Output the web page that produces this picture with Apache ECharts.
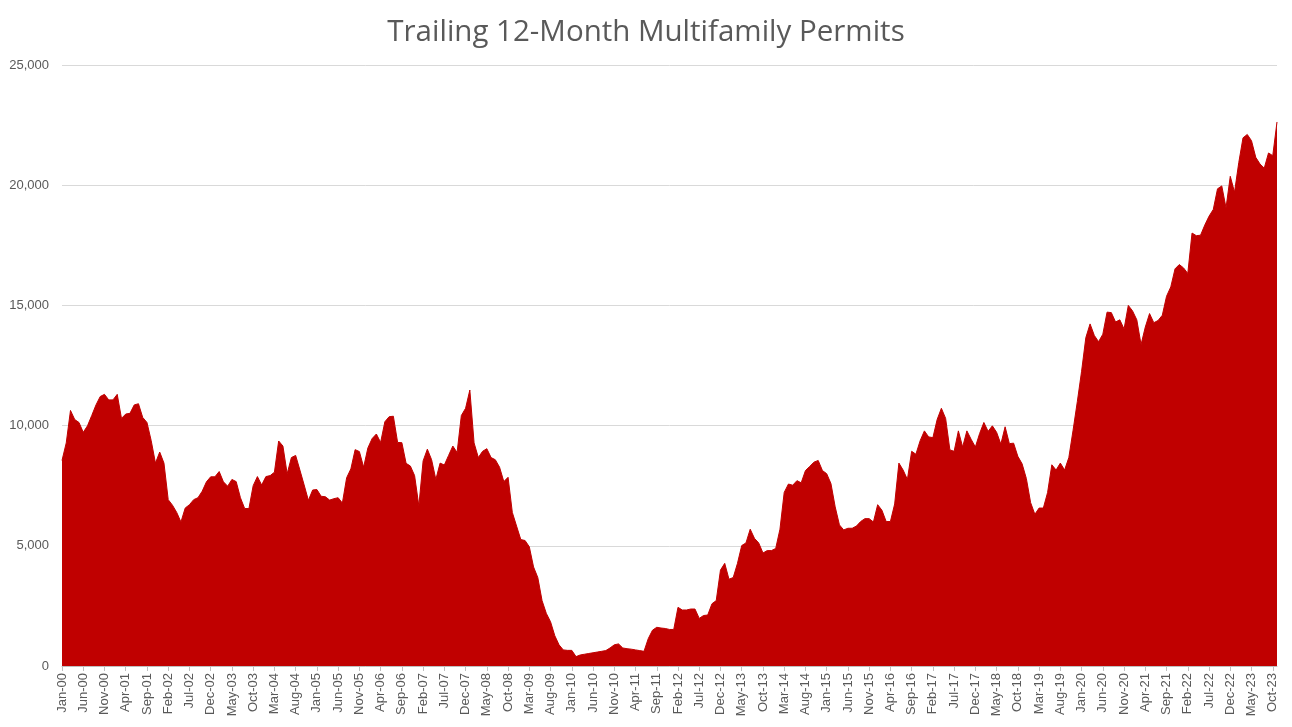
<!DOCTYPE html>
<html>
<head>
<meta charset="UTF-8">
<title>Trailing 12-Month Multifamily Permits</title>
<script src="https://cdn.jsdelivr.net/npm/echarts@6/dist/echarts.min.js"></script>
<style>
  html, body { margin: 0; padding: 0; background: #fff; }
  #main { width: 1292px; height: 727px; }
</style>
</head>
<body>
<div id="main"></div>
<script type="text/javascript">
// monthly, Jan-00 .. Nov-23
var monthNames = ['Jan', 'Feb', 'Mar', 'Apr', 'May', 'Jun', 'Jul', 'Aug', 'Sep', 'Oct', 'Nov', 'Dec'];
var startYear = 2000;
var monthCount = 287;

var permits = [
  // 2000
  8550, 9280, 10630, 10250, 10130, 9720, 9990, 10420, 10860, 11210, 11300, 11070,
  // 2001
  11070, 11300, 10300, 10480, 10510, 10860, 10910, 10340, 10130, 9370, 8440, 8900,
  // 2002
  8440, 6920, 6690, 6390, 5990, 6570, 6710, 6920, 7000, 7270, 7660, 7870,
  // 2003
  7870, 8090, 7660, 7480, 7760, 7670, 7000, 6550, 6550, 7500, 7880, 7530,
  // 2004
  7880, 7920, 8060, 9360, 9150, 8000, 8670, 8760, 8150, 7530, 6890, 7320,
  // 2005
  7340, 7060, 7040, 6900, 6960, 7000, 6780, 7830, 8200, 9000, 8920, 8270,
  // 2006
  9070, 9460, 9650, 9300, 10160, 10370, 10390, 9300, 9290, 8430, 8320, 7920,
  // 2007
  6660, 8530, 9020, 8580, 7760, 8440, 8360, 8760, 9150, 8880, 10420, 10720,
  // 2008
  11480, 9280, 8670, 8930, 9040, 8670, 8580, 8270, 7670, 7850, 6390, 5820,
  // 2009
  5260, 5220, 4960, 4120, 3680, 2720, 2190, 1840, 1260, 880, 670, 650,
  // 2010
  650, 390, 460, 490, 520, 550, 580, 610, 640, 750, 880, 920,
  // 2011
  750, 720, 700, 670, 640, 610, 1140, 1490, 1610, 1580, 1560, 1520,
  // 2012
  1520, 2440, 2330, 2330, 2370, 2370, 1980, 2100, 2120, 2590, 2720, 3990,
  // 2013
  4270, 3610, 3680, 4270, 5010, 5120, 5690, 5310, 5120, 4700, 4800, 4800,
  // 2014
  4890, 5690, 7220, 7570, 7520, 7710, 7620, 8130, 8300, 8480, 8550, 8130,
  // 2015
  8000, 7590, 6620, 5870, 5660, 5730, 5730, 5820, 6010, 6130, 6130, 5990,
  // 2016
  6710, 6480, 6010, 6010, 6740, 8440, 8150, 7760, 8930, 8810, 9370, 9780,
  // 2017
  9530, 9500, 10250, 10720, 10300, 8990, 8930, 9780, 9110, 9780, 9430, 9110,
  // 2018
  9670, 10130, 9760, 9990, 9720, 9230, 9950, 9250, 9270, 8720, 8410, 7800,
  // 2019
  6800, 6310, 6570, 6570, 7220, 8370, 8150, 8440, 8150, 8670, 9810, 11000,
  // 2020
  12260, 13660, 14230, 13750, 13490, 13800, 14720, 14700, 14310, 14400, 14020, 15000,
  // 2021
  14770, 14400, 13370, 14100, 14660, 14280, 14370, 14590, 15380, 15770, 16520, 16700,
  // 2022
  16560, 16330, 18010, 17900, 17920, 18340, 18710, 18990, 19850, 19970, 19060, 20370,
  // 2023
  19710, 20940, 21970, 22110, 21850, 21160, 20880, 20710, 21340, 21230, 22630
];

var categories = [];
for (var i = 0; i < monthCount; i++) {
  var y = startYear + Math.floor(i / 12);
  var yy = String(y % 100);
  if (yy.length < 2) yy = '0' + yy;
  categories.push(monthNames[i % 12] + '-' + yy);
}

var chart = echarts.init(document.getElementById('main'));

var option = {
  backgroundColor: '#ffffff',
  animation: false,
  title: {
    text: 'Trailing 12-Month Multifamily Permits',
    left: 'center',
    top: 13,
    textStyle: {
      fontFamily: 'Open Sans',
      fontSize: 29.5,
      fontWeight: 'normal',
      color: '#595959'
    }
  },
  grid: {
    left: 62,
    right: 15,
    top: 65,
    bottom: 61,
    containLabel: false
  },
  xAxis: {
    type: 'category',
    data: categories,
    boundaryGap: false,
    axisLine: { show: true, lineStyle: { color: '#bfbfbf', width: 1 } },
    axisTick: {
      show: true,
      interval: 4,
      length: 5,
      lineStyle: { color: '#bfbfbf' }
    },
    axisLabel: {
      interval: 4,
      rotate: 90,
      margin: 7,
      fontFamily: 'Liberation Sans',
      fontSize: 13,
      color: '#595959'
    },
    splitLine: { show: false }
  },
  yAxis: {
    type: 'value',
    min: 0,
    max: 25000,
    interval: 5000,
    axisLine: { show: false },
    axisTick: { show: false },
    axisLabel: {
      margin: 13,
      fontFamily: 'Liberation Sans',
      fontSize: 13,
      color: '#595959',
      formatter: function (v) {
        return v.toLocaleString('en-US');
      }
    },
    splitLine: { lineStyle: { color: '#d9d9d9', width: 1 } }
  },
  series: [{
    name: 'Permits',
    type: 'line',
    data: permits,
    showSymbol: false,
    symbol: 'none',
    lineStyle: { color: '#c00000', width: 1 },
    itemStyle: { color: '#c00000' },
    areaStyle: { color: '#c00000', opacity: 1 }
  }]
};

chart.setOption(option);
</script>
</body>
</html>
